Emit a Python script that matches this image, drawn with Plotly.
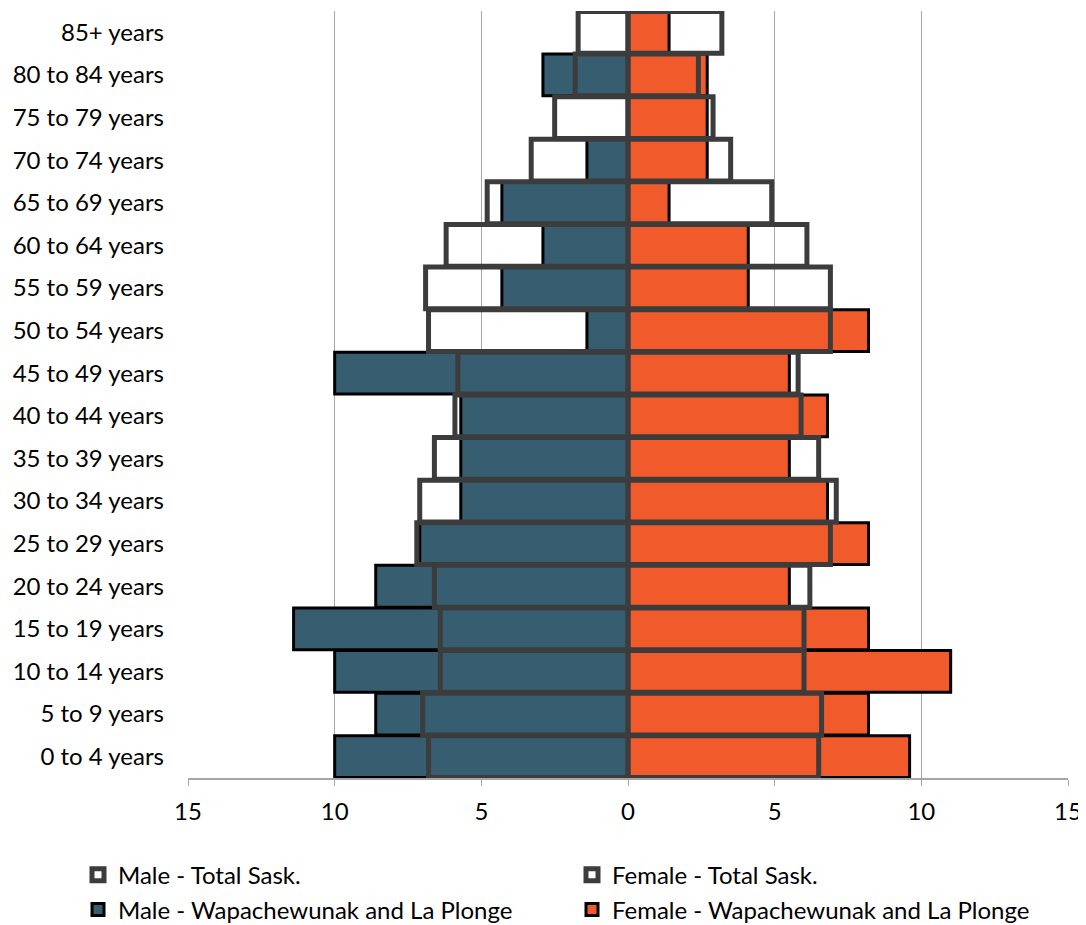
import plotly.graph_objects as go

ages = ["0 to 4 years", "5 to 9 years", "10 to 14 years", "15 to 19 years", "20 to 24 years",
        "25 to 29 years", "30 to 34 years", "35 to 39 years", "40 to 44 years", "45 to 49 years",
        "50 to 54 years", "55 to 59 years", "60 to 64 years", "65 to 69 years", "70 to 74 years",
        "75 to 79 years", "80 to 84 years", "85+ years"]

male_total = [6.8, 7.0, 6.4, 6.4, 6.6, 7.2, 7.1, 6.6, 5.9, 5.8, 6.8, 6.9, 6.2, 4.8, 3.3, 2.5, 1.8, 1.7]
female_total = [6.5, 6.6, 6.0, 6.0, 6.2, 6.9, 7.1, 6.5, 5.9, 5.8, 6.9, 6.9, 6.1, 4.9, 3.5, 2.9, 2.4, 3.2]
male_comm = [10.0, 8.6, 10.0, 11.4, 8.6, 7.1, 5.7, 5.7, 5.7, 10.0, 1.4, 4.3, 2.9, 4.3, 1.4, 0.0, 2.9, 0.0]
female_comm = [9.6, 8.2, 11.0, 8.2, 5.5, 8.2, 6.8, 5.5, 6.8, 5.5, 8.2, 4.1, 4.1, 1.4, 2.7, 2.7, 2.7, 1.4]

x_ticks = [-15, -10, -5, 0, 5, 10, 15]
x_tick_text = ["15", "10", "5", "0", "5", "10", "15"]

TEAL = "#365E70"
ORANGE = "#F15A2B"
GREY = "#3C3C3C"
FONT = "Lato"
FS = 24

fig = go.Figure()
fig.add_trace(go.Bar(
    y=ages, x=[-v for v in male_comm], orientation="h",
    name="Male - Wapachewunak and La Plonge",
    marker=dict(color=TEAL, line=dict(color="#000000", width=3)),
    legend="legend2", legendrank=3))
fig.add_trace(go.Bar(
    y=ages, x=female_comm, orientation="h",
    name="Female - Wapachewunak and La Plonge",
    marker=dict(color=ORANGE, line=dict(color="#000000", width=3)),
    legend="legend2", legendrank=4))
fig.add_trace(go.Bar(
    y=ages, x=[-v for v in male_total], orientation="h",
    name="Male - Total Sask.",
    marker=dict(color="rgba(255,255,255,0)", line=dict(color=GREY, width=5)),
    legend="legend", legendrank=1))
fig.add_trace(go.Bar(
    y=ages, x=female_total, orientation="h",
    name="Female - Total Sask.",
    marker=dict(color="rgba(255,255,255,0)", line=dict(color=GREY, width=5)),
    legend="legend", legendrank=2))

legend_common = dict(orientation="h", xanchor="left", yanchor="middle",
                     entrywidth=449, entrywidthmode="pixels",
                     font=dict(family=FONT, size=FS, color="#000000"),
                     bgcolor="rgba(0,0,0,0)", itemclick=False)

# page body has an 8px default margin, so the figure is sized to fit the window
fig.update_layout(
    width=1078, height=917,
    margin=dict(l=180, r=18, t=3, b=147, autoexpand=False),
    barmode="overlay", bargap=0.02,
    plot_bgcolor="white", paper_bgcolor="white",
    font=dict(family=FONT, size=FS, color="#000000"),
    xaxis=dict(range=[-15, 15], tickvals=x_ticks, ticktext=x_tick_text,
               showgrid=True, gridcolor="#A6A6A6", gridwidth=1,
               zeroline=True, zerolinecolor="#8C8C8C", zerolinewidth=2,
               showline=True, linecolor="#A6A6A6", linewidth=2,
               ticks="outside", ticklen=6, tickcolor="#A6A6A6",
               ticklabelstandoff=5, automargin=False,
               tickfont=dict(family=FONT, size=FS, color="#000000"),
               fixedrange=True),
    yaxis=dict(categoryorder="array", categoryarray=ages, showgrid=False,
               ticks="", ticklabelstandoff=23, automargin=False,
               tickfont=dict(family=FONT, size=FS, color="#000000"),
               fixedrange=True),
    legend=dict(x=-0.125, y=-0.1265, **legend_common),
    legend2=dict(x=-0.125, y=-0.172, **legend_common),
)

fig.write_html("out.html")
